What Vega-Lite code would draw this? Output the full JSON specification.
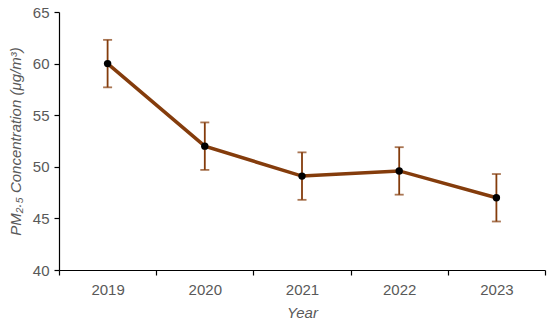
{
  "$schema": "https://vega.github.io/schema/vega-lite/v6.json",
  "autosize": "none",
  "width": 486,
  "height": 258,
  "padding": {"left": 59, "top": 12, "right": 5, "bottom": 54},
  "background": "white",
  "config": {
    "view": {"stroke": null},
    "font": "Liberation Sans",
    "axis": {
      "domainColor": "#000000",
      "tickColor": "#000000",
      "domainWidth": 1.2,
      "tickWidth": 1.2,
      "tickSize": 5,
      "labelColor": "#595959",
      "labelFontSize": 15,
      "titleColor": "#595959",
      "titleFontSize": 15,
      "titleFontStyle": "italic",
      "titleFontWeight": "normal",
      "grid": false
    }
  },
  "data": {
    "values": [
      {"year": "2019", "value": 60.0, "lo": 57.7, "hi": 62.3},
      {"year": "2020", "value": 52.0, "lo": 49.7, "hi": 54.3},
      {"year": "2021", "value": 49.1, "lo": 46.8, "hi": 51.4},
      {"year": "2022", "value": 49.6, "lo": 47.3, "hi": 51.9},
      {"year": "2023", "value": 47.0, "lo": 44.7, "hi": 49.3}
    ]
  },
  "encoding": {
    "x": {
      "field": "year",
      "type": "ordinal",
      "title": "Year",
      "scale": {"paddingInner": 0, "paddingOuter": 0},
      "axis": {"labelAngle": 0, "tickBand": "extent", "labelPadding": 7, "titlePadding": 8}
    }
  },
  "layer": [
    {
      "mark": {"type": "rule", "color": "#843C0C", "strokeWidth": 1.8},
      "encoding": {
        "y": {"field": "lo", "type": "quantitative"},
        "y2": {"field": "hi"}
      }
    },
    {
      "mark": {"type": "tick", "color": "#843C0C", "thickness": 1.8, "size": 9},
      "encoding": {"y": {"field": "lo", "type": "quantitative"}}
    },
    {
      "mark": {"type": "tick", "color": "#843C0C", "thickness": 1.8, "size": 9},
      "encoding": {"y": {"field": "hi", "type": "quantitative"}}
    },
    {
      "mark": {"type": "line", "color": "#843C0C", "strokeWidth": 3.5},
      "encoding": {
        "y": {
          "field": "value",
          "type": "quantitative",
          "title": "PM₂.₅ Concentration (μg/m³)",
          "scale": {"domain": [40, 65], "nice": false, "zero": false},
          "axis": {"values": [40, 45, 50, 55, 60, 65], "labelPadding": 5, "titlePadding": 9}
        }
      }
    },
    {
      "mark": {"type": "point", "filled": true, "color": "#000000", "size": 55, "opacity": 1},
      "encoding": {"y": {"field": "value", "type": "quantitative"}}
    }
  ]
}
